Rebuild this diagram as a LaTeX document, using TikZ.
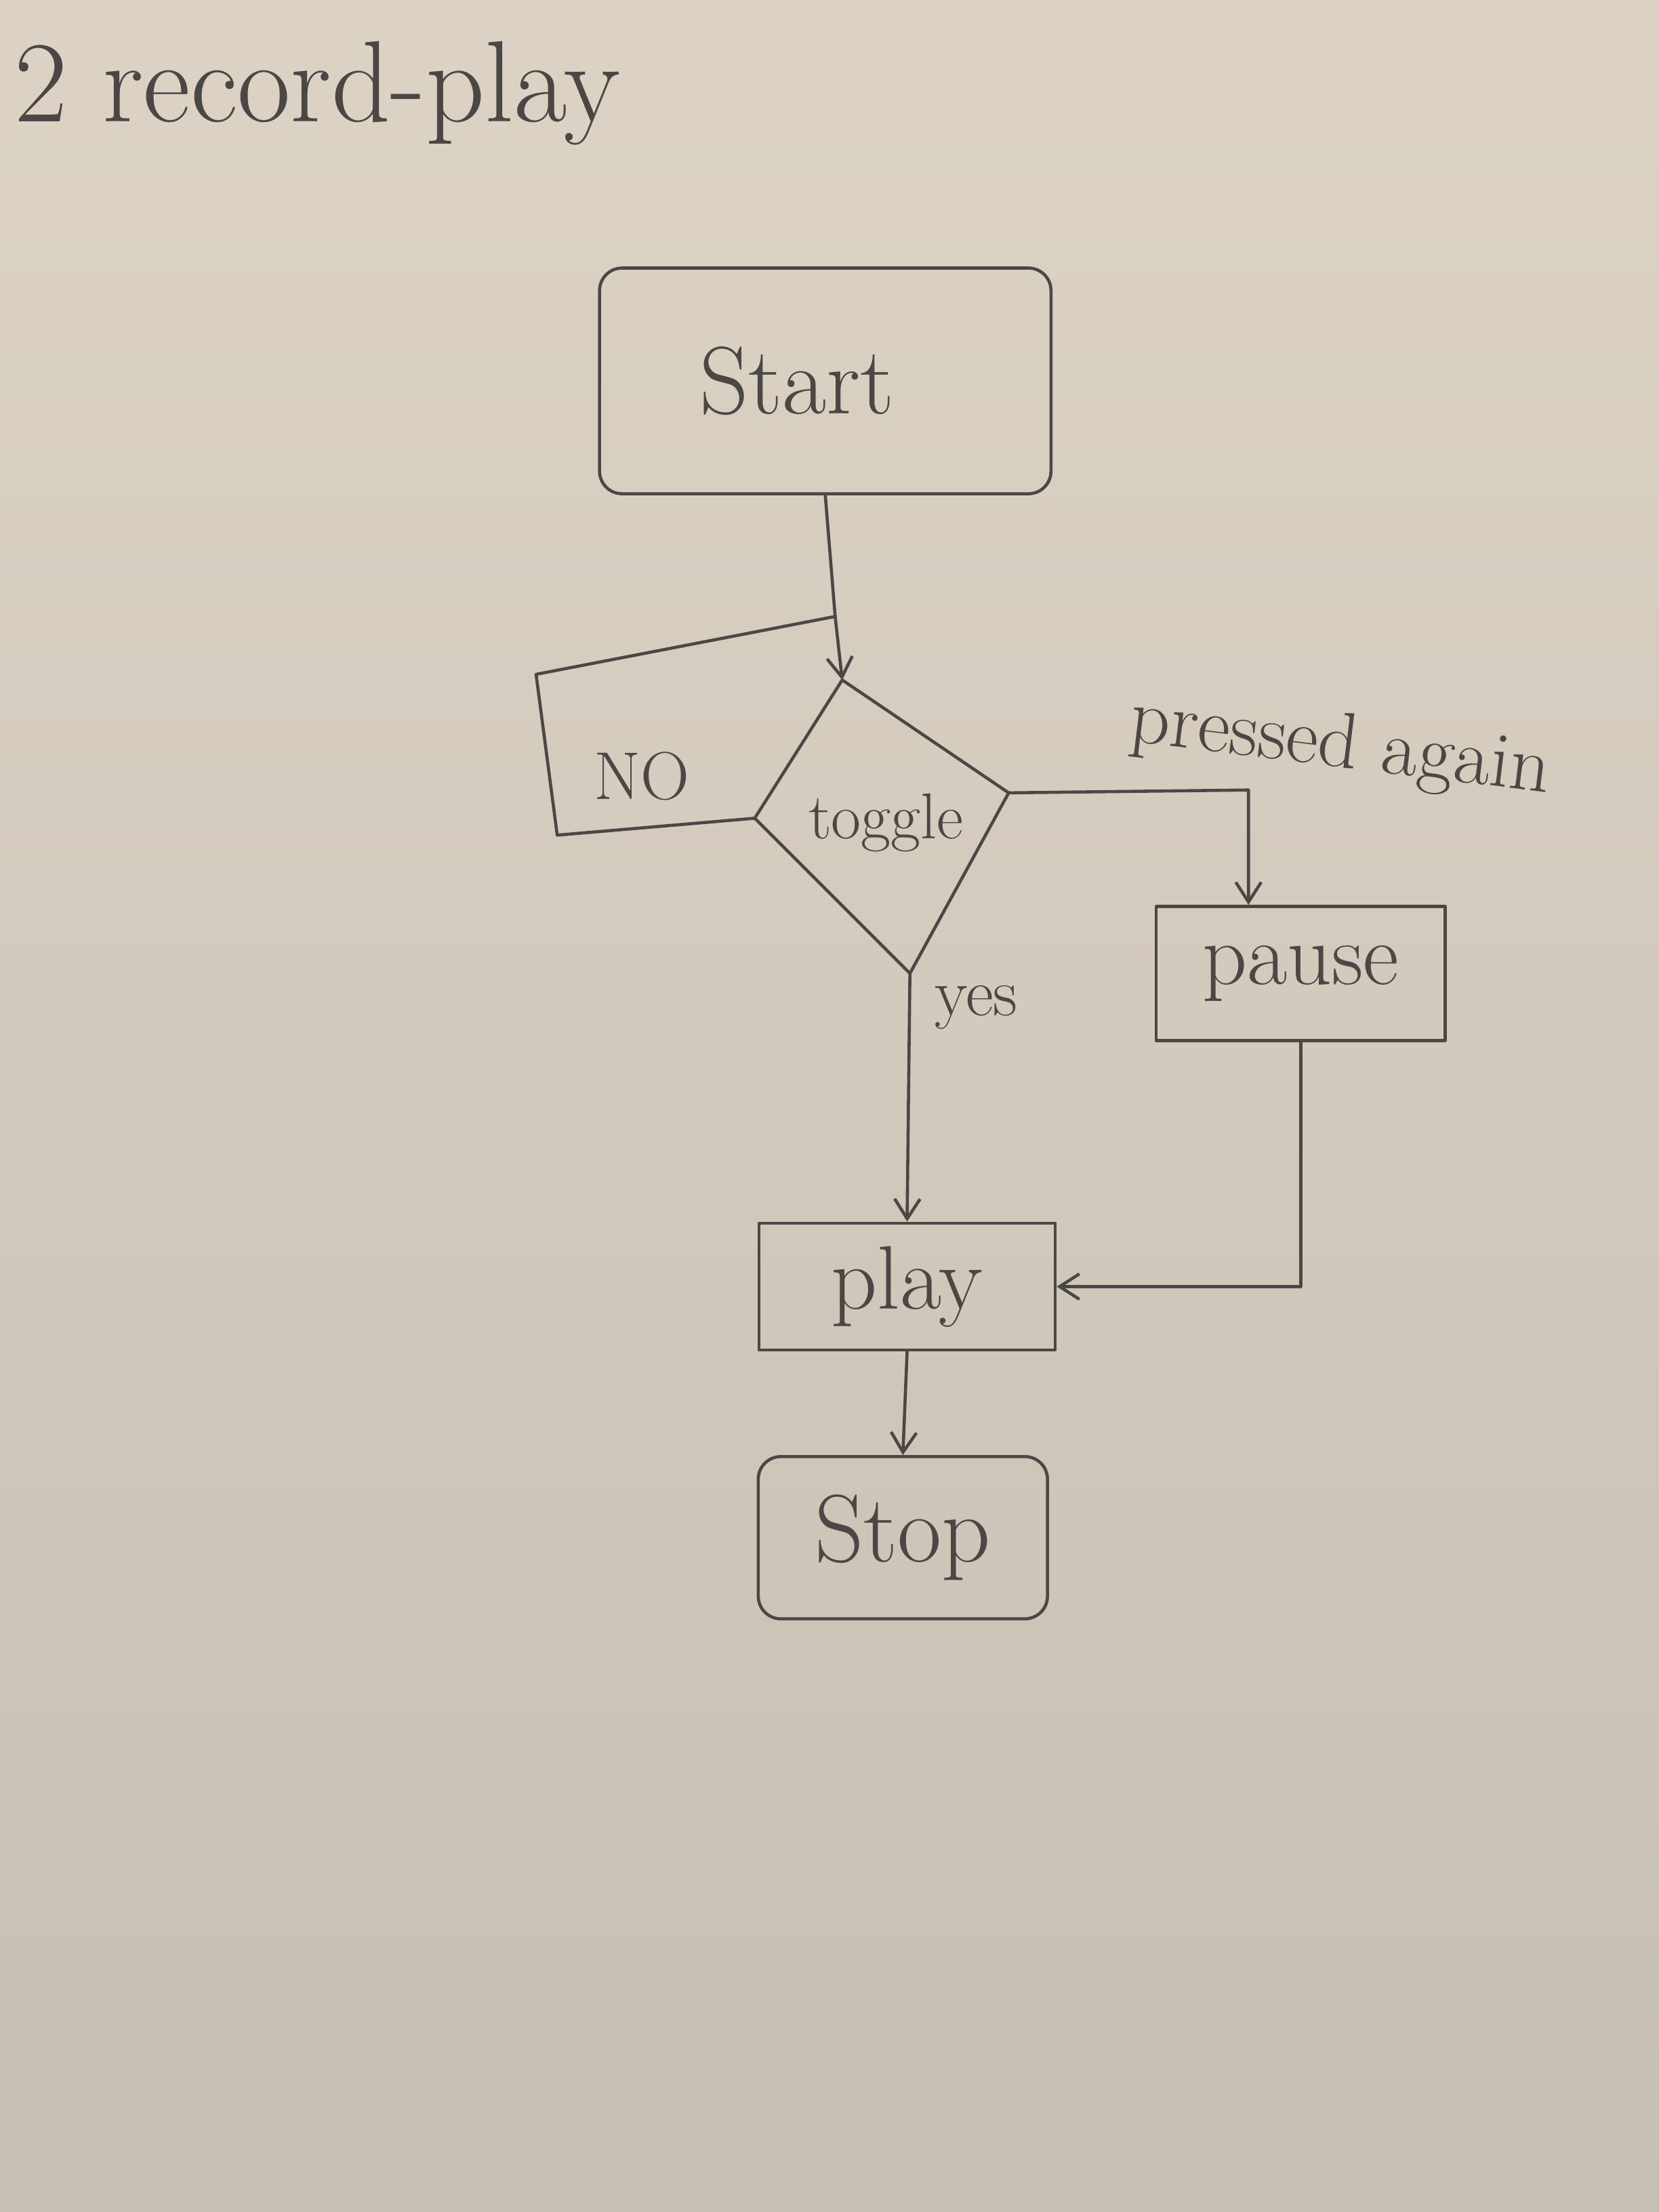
\documentclass[tikz,border=0pt]{standalone}
\usetikzlibrary{arrows.meta,shapes.geometric}
\definecolor{paperTop}{HTML}{DCD3C4}
\definecolor{paperBot}{HTML}{C6BFB3}
\definecolor{pencil}{HTML}{4A4744}
\tikzset{
  pen/.style={draw=pencil, line width=1.1pt, line join=round, line cap=round},
  arr/.style={pen, -{Straight Barb[length=7pt,width=9pt,line width=1.1pt]}},
  procbox/.style={pen, rectangle, inner sep=0pt, text=pencil},
  termbox/.style={pen, rectangle, rounded corners=8pt, inner sep=0pt, text=pencil},
  lbl/.style={text=pencil, inner sep=0pt}
}
\begin{document}
\begin{tikzpicture}[x=0.5pt,y=-0.5pt]
  \shade[top color=paperTop, bottom color=paperBot] (0,0) rectangle (1176,1568);
  \useasboundingbox (0,0) rectangle (1176,1568);

  % title
  \node[lbl, anchor=base west, font=\fontsize{41}{48}\selectfont] (title) at (10,86) {2 record-play};

  % nodes
  \node[termbox, minimum width=160pt, minimum height=80pt] (start) at (585,270) {};
  \node[lbl, font=\fontsize{34}{40}\selectfont] (starttext) at (565,270) {Start};

  \coordinate (dtop) at (597,482);
  \coordinate (dleft) at (535,580);
  \coordinate (dright) at (715,562);
  \coordinate (dbottom) at (645,690);
  \draw[pen] (dtop) -- (dright) -- (dbottom) -- (dleft) -- cycle;
  \node[lbl, font=\fontsize{23}{27}\selectfont] (toggle) at (628,583) {toggle};

  \node[procbox, minimum width=102.5pt, minimum height=47.5pt, font=\fontsize{31}{36}\selectfont] (pause) at (922,690) {pause};
  \node[procbox, minimum width=105pt, minimum height=45pt, font=\fontsize{32}{38}\selectfont] (play) at (643,912) {play};
  \node[termbox, minimum width=102.5pt, minimum height=57.5pt, font=\fontsize{34}{40}\selectfont] (stop) at (640,1090) {Stop};

  % connectors
  \coordinate (join) at (592,437);
  \coordinate (nobl) at (395,592);
  \coordinate (notl) at (380,478);
  \coordinate (pr) at (885,560);

  \draw[arr] (start.south) -- (join) -- (dtop);
  \draw[pen] (dleft) -- (nobl) -- (notl) -- (join);
  \node[lbl, font=\fontsize{24}{28}\selectfont] (no) at (455,550) {NO};

  \draw[arr] (dright) -- (pr) -- (pr |- pause.north);
  \node[lbl, rotate=-7, font=\fontsize{28}{32}\selectfont] (pressed) at (950,530) {pressed again};

  \draw[arr] (dbottom) -- (play.north);
  \node[lbl, font=\fontsize{24}{28}\selectfont] (yes) at (692,714) {yes};

  \draw[arr] (pause.south) |- (play.east);
  \draw[arr] (play.south) -- (stop.north);
\end{tikzpicture}
\end{document}
